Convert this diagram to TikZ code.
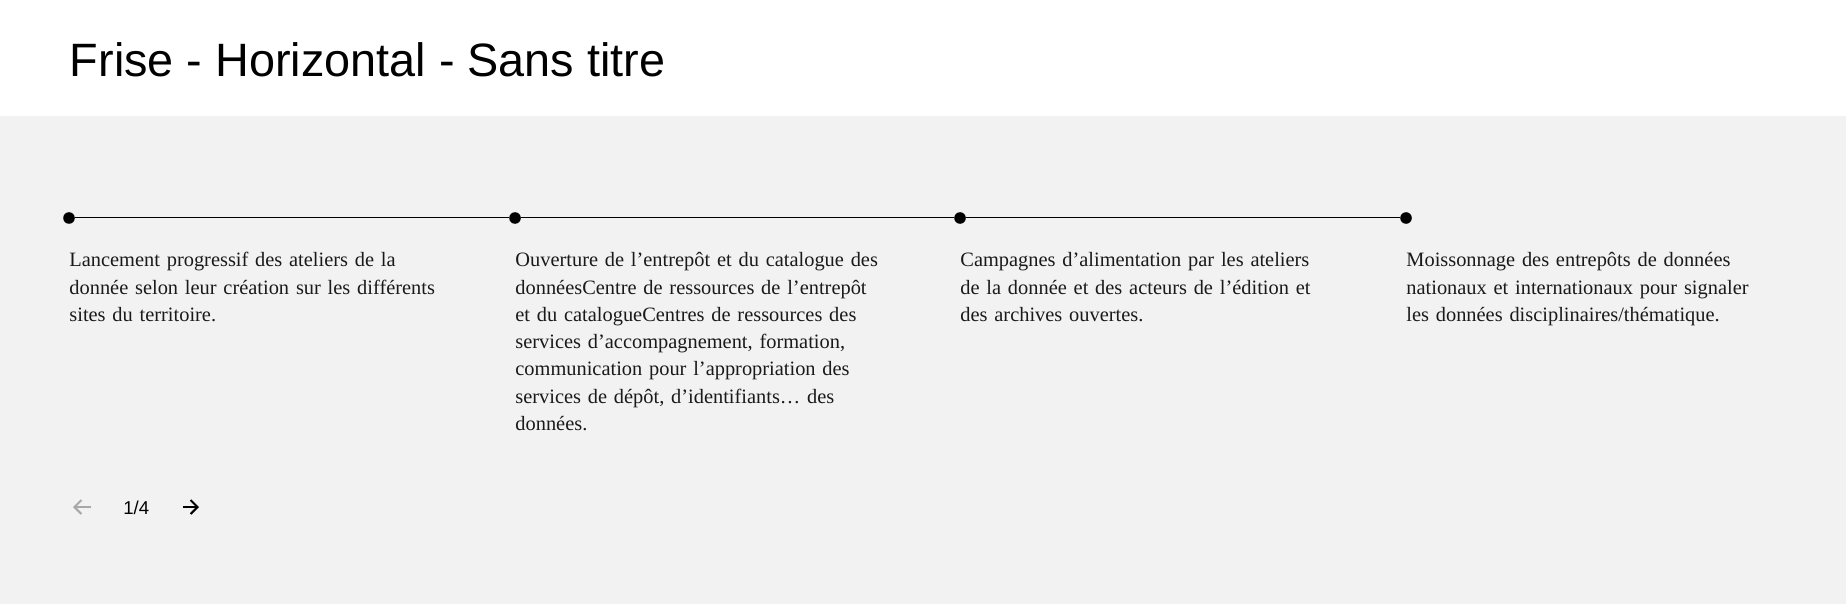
\documentclass[tikz,border=0pt]{standalone}
\usepackage{fontspec}
\setmainfont{Liberation Serif}
\newfontfamily\titlefont{Liberation Sans}
\usetikzlibrary{arrows.meta}
\definecolor{bggray}{HTML}{F2F2F2}
\definecolor{navgray}{HTML}{A8A8A8}
\definecolor{ink}{HTML}{1A1A1A}
\begin{document}
\begin{tikzpicture}[x=0.5pt,y=-0.5pt,
  dot/.style={circle,fill=black,inner sep=0pt,minimum size=5.8pt},
  tline/.style={line width=0.5pt,black},
  desc/.style={anchor=base west,inner sep=0pt,text width=210pt,align=left,
    font=\fontsize{10.2}{13.6}\selectfont,text=ink},
  navarrow/.style={line width=1pt,-{Straight Barb[length=3.5pt,width=7pt]}},
  navtext/.style={anchor=base west,inner sep=0pt,font=\titlefont\fontsize{9.3}{11}\selectfont,text=black}]
\useasboundingbox (0,0) rectangle (1846,604);
\fill[white] (0,0) rectangle (1846,116);
\fill[bggray] (0,116) rectangle (1846,604);
\node[anchor=base west,inner sep=0pt,font=\titlefont\fontsize{23.4}{28}\selectfont] (title) at (69.5,77) {Frise - Horizontal - Sans titre};
% timeline
\node[dot] (d1) at (69,218) {};
\node[dot] (d2) at (515,218) {};
\node[dot] (d3) at (960,218) {};
\node[dot] (d4) at (1406,218) {};
\draw[tline] (d1) -- (d2);
\draw[tline] (d2) -- (d3);
\draw[tline] (d3) -- (d4);
% descriptions
\node[desc] (t1) at (69,267) {Lancement progressif des ateliers de la\\
donnée selon leur création sur les différents\\
sites du territoire.};
\node[desc] (t2) at (515,267) {Ouverture de l’entrepôt et du catalogue des\\
donnéesCentre de ressources de l’entrepôt\\
et du catalogueCentres de ressources des\\
services d’accompagnement, formation,\\
communication pour l’appropriation des\\
services de dépôt, d’identifiants… des\\
données.};
\node[desc] (t3) at (960,267) {Campagnes d’alimentation par les ateliers\\
de la donnée et des acteurs de l’édition et\\
des archives ouvertes.};
\node[desc] (t4) at (1406,267) {Moissonnage des entrepôts de données\\
nationaux et internationaux pour signaler\\
les données disciplinaires/thématique.};
% pagination
\coordinate (pl1) at (91,507);
\coordinate (pl2) at (73,507);
\draw[navarrow,navgray] (pl1) -- (pl2);
\node[navtext] (page) at (123,514) {1/4};
\coordinate (pr1) at (183,507);
\coordinate (pr2) at (199,507);
\draw[navarrow,black] (pr1) -- (pr2);
\end{tikzpicture}
\end{document}
